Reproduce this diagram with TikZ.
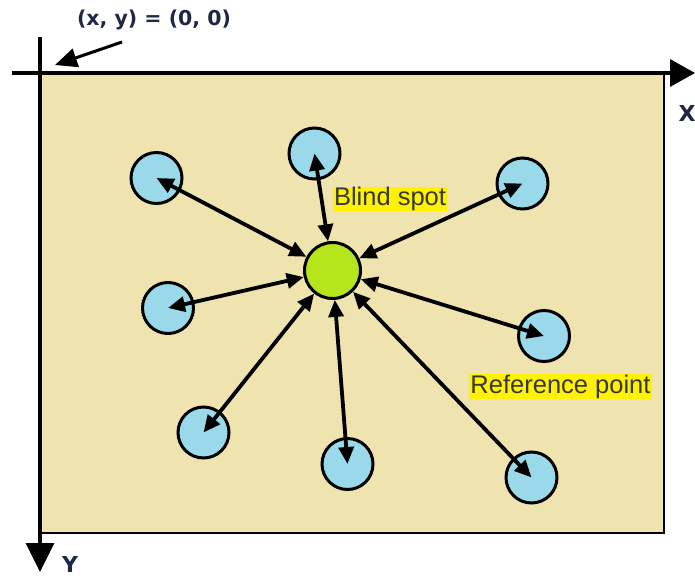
\documentclass[tikz,border=0pt]{standalone}
\usepackage{fontspec}
\setmainfont{Liberation Sans}
\newfontfamily\axisfont{DejaVu Sans}
\usetikzlibrary{arrows.meta}

\definecolor{tanfill}{RGB}{239,228,176}
\definecolor{spotblue}{RGB}{153,217,234}
\definecolor{blindgreen}{RGB}{181,230,29}
\definecolor{axisblue}{RGB}{30,40,70}
\definecolor{labelgray}{RGB}{55,55,55}

\tikzset{
  refpt/.style={circle, draw, line width=3pt, fill=spotblue, minimum size=51pt, inner sep=0pt},
  blindpt/.style={circle, draw, line width=3pt, fill=blindgreen, minimum size=56pt, inner sep=0pt},
  link/.style={line width=3.8pt, {Triangle[length=17pt,width=15pt]}-{Triangle[length=17pt,width=15pt]}},
  tag/.style={fill=yellow, text=labelgray, font=\fontsize{25.5}{28}\selectfont, inner xsep=1pt, inner ysep=0.5pt},
  axislabel/.style={text=axisblue, font=\axisfont\bfseries\fontsize{22}{24}\selectfont, inner sep=0pt}
}

\begin{document}
\begin{tikzpicture}[x=1pt,y=-1pt]
\useasboundingbox (0,0) rectangle (695,578);
% field
\draw[line width=2.6pt, fill=tanfill] (40,73) rectangle (664,533);
% axes
\coordinate (xs) at (12,73);
\coordinate (xe) at (695,73);
\coordinate (ys) at (40,37);
\coordinate (ye) at (40,572);
\draw[line width=3.2pt, -{Triangle[length=25pt,width=27pt]}] (xs) -- (xe);
\draw[line width=3.2pt, -{Triangle[length=29pt,width=28pt]}] (ys) -- (ye);
\node[axislabel] (xl) at (687,113) {X};
\node[axislabel] (yl) at (70,564) {Y};
\node[axislabel, font=\axisfont\bfseries\fontsize{20.5}{24}\selectfont] (orig) at (154,20) {(x, y) = (0, 0)};
\coordinate (oa) at (122,42);
\coordinate (ob) at (55,65);
\draw[line width=3pt, -{Triangle[length=22pt,width=19pt]}] (oa) -- (ob);

% blind spot and reference points
\node[blindpt] (bs) at (332.5,270.5) {};
\node[refpt] (r1) at (156.5,178) {};
\node[refpt] (r2) at (314.5,153.5) {};
\node[refpt] (r3) at (522.5,183.5) {};
\node[refpt] (r4) at (168,308) {};
\node[refpt] (r5) at (544,336) {};
\node[refpt] (r6) at (203.5,432.5) {};
\node[refpt] (r7) at (347.5,464) {};
\node[refpt] (r8) at (531.5,477.5) {};
\foreach \r in {r1,r2,r3,r4,r5,r6,r7,r8}
  \draw[link] (bs) -- (\r.center);

\node[tag] (bslabel) at (390,199) {Blind spot};
\node[tag] (rplabel) at (560.5,386.5) {Reference point};
\end{tikzpicture}
\end{document}
